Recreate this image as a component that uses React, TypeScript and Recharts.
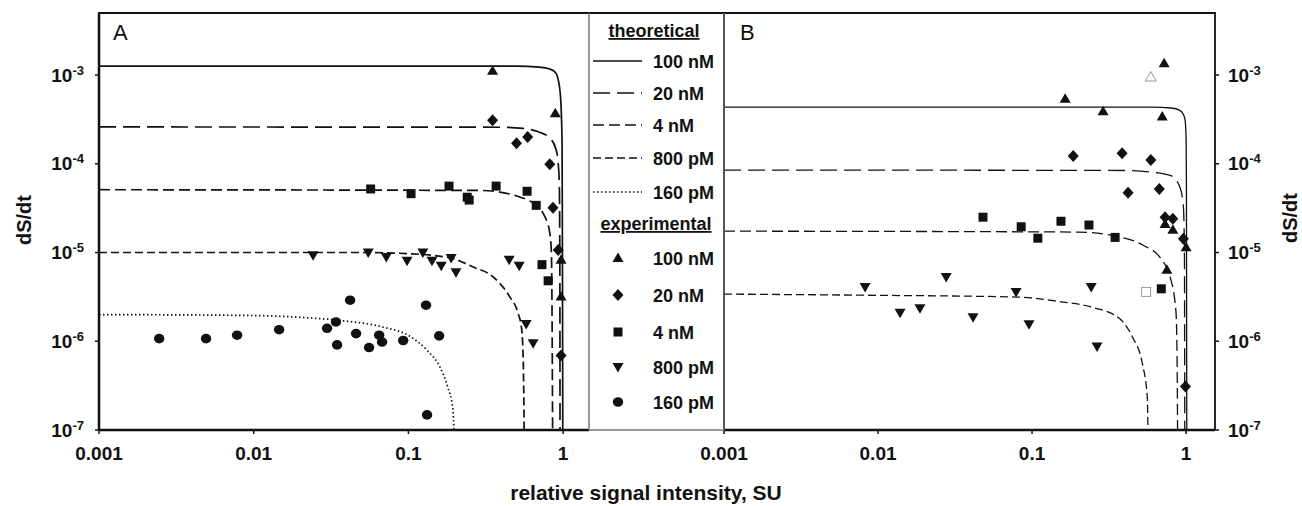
import React from 'react';
import { ComposedChart, Line, Scatter, XAxis, YAxis } from 'recharts';

type Pt = [number, number];

// ---------- labels / ticks ----------
const seriesNames = ['100 nM', '20 nM', '4 nM', '800 pM', '160 pM'];
const xTicks = [0.001, 0.01, 0.1, 1];
const xTickLabels = ['0.001', '0.01', '0.1', '1'];
const yTicks = [1e-7, 1e-6, 1e-5, 1e-4, 1e-3];
const yTickExponents = ['-7', '-6', '-5', '-4', '-3'];
const xTitle = 'relative signal intensity, SU';
const yTitle = 'dS/dt';

// ---------- panel A: theoretical curves ----------
const A_theo100: Pt[] = [[0.001, 1.26e-3], [0.5, 1.26e-3], [0.7, 1.23e-3], [0.82, 1.17e-3], [0.9, 1.05e-3], [0.93, 8.8e-4], [0.96, 6e-4], [0.975, 3.5e-4], [0.985, 1.5e-4], [0.99, 1e-5], [0.995, 1e-7]];
const A_theo20: Pt[] = [[0.001, 2.6e-4], [0.4, 2.58e-4], [0.55, 2.5e-4], [0.69, 2.3e-4], [0.82, 1.95e-4], [0.9, 1.45e-4], [0.93, 1e-4], [0.945, 6e-5], [0.952, 1e-5], [0.955, 1e-7]];
const A_theo4: Pt[] = [[0.001, 5.1e-5], [0.3, 5.0e-5], [0.39, 4.8e-5], [0.53, 4.2e-5], [0.64, 3.6e-5], [0.765, 2.5e-5], [0.82, 1.66e-5], [0.84, 1e-5], [0.85, 1e-6], [0.855, 1e-7]];
const A_theo800: Pt[] = [[0.001, 1e-5], [0.05, 1e-5], [0.1, 9.7e-6], [0.186, 8.7e-6], [0.26, 6.9e-6], [0.353, 5.3e-6], [0.45, 3.2e-6], [0.51, 2.1e-6], [0.54, 1.35e-6], [0.553, 5.6e-7], [0.56, 1e-7]];
const A_theo160: Pt[] = [[0.001, 2.0e-6], [0.01, 1.95e-6], [0.02, 1.86e-6], [0.038, 1.7e-6], [0.069, 1.44e-6], [0.103, 1.13e-6], [0.132, 7.9e-7], [0.16, 5.1e-7], [0.18, 3.0e-7], [0.194, 1.7e-7], [0.197, 1e-7]];

// ---------- panel A: experimental ----------
const A_exp100: Pt[] = [[0.35, 1.12e-3], [0.89, 3.7e-4], [0.97, 8.3e-6], [0.97, 3.2e-6]];
const A_exp20: Pt[] = [[0.35, 3.1e-4], [0.5, 1.7e-4], [0.59, 2.0e-4], [0.82, 9.9e-5], [0.86, 3.2e-5], [0.93, 1.07e-5], [0.97, 6.9e-7]];
const A_exp4: Pt[] = [[0.057, 5.2e-5], [0.104, 4.6e-5], [0.183, 5.6e-5], [0.24, 4.2e-5], [0.247, 3.9e-5], [0.369, 5.6e-5], [0.585, 4.9e-5], [0.67, 3.4e-5], [0.73, 7.3e-6], [0.8, 4.8e-6]];
const A_exp800: Pt[] = [[0.0242, 9.3e-6], [0.055, 1.0e-5], [0.072, 8.9e-6], [0.098, 8.1e-6], [0.124, 1.0e-5], [0.142, 8.1e-6], [0.163, 7.1e-6], [0.189, 8.7e-6], [0.203, 6.0e-6], [0.448, 8.3e-6], [0.52, 7.1e-6], [0.577, 1.56e-6], [0.64, 9.5e-7]];
const A_exp160: Pt[] = [[0.00245, 1.07e-6], [0.00492, 1.07e-6], [0.00781, 1.17e-6], [0.0146, 1.35e-6], [0.0298, 1.4e-6], [0.034, 1.65e-6], [0.0346, 9.1e-7], [0.042, 2.9e-6], [0.0459, 1.22e-6], [0.0557, 8.5e-7], [0.0647, 1.17e-6], [0.0676, 9.8e-7], [0.0925, 1.02e-6], [0.13, 2.55e-6], [0.158, 1.15e-6], [0.132, 1.48e-7]];

// ---------- panel B: theoretical curves ----------
const B_theo100: Pt[] = [[0.001, 4.35e-4], [0.6, 4.35e-4], [0.8, 4.25e-4], [0.91, 4e-4], [0.96, 3.6e-4], [0.985, 3.1e-4], [1.0, 1.9e-4], [1.005, 5e-5], [1.01, 1e-7]];
const B_theo20: Pt[] = [[0.001, 8.5e-5], [0.4, 8.4e-5], [0.58, 8.1e-5], [0.79, 7.4e-5], [0.91, 5.5e-5], [0.96, 3.3e-5], [0.975, 1e-5], [0.98, 1e-7]];
const B_theo4: Pt[] = [[0.001, 1.74e-5], [0.2, 1.7e-5], [0.336, 1.55e-5], [0.53, 1.2e-5], [0.68, 8.7e-6], [0.79, 5.2e-6], [0.86, 2.1e-6], [0.875, 5e-7], [0.88, 1e-7]];
const B_theo800: Pt[] = [[0.001, 3.4e-6], [0.0085, 3.3e-6], [0.079, 3.15e-6], [0.151, 2.8e-6], [0.25, 2.4e-6], [0.37, 1.8e-6], [0.45, 1.1e-6], [0.52, 5.6e-7], [0.56, 2.3e-7], [0.565, 1e-7]];

// ---------- panel B: experimental ----------
const B_exp100: Pt[] = [[0.72, 1.36e-3], [0.164, 5.4e-4], [0.289, 3.9e-4], [0.7, 3.4e-4], [0.73, 2.1e-5], [0.82, 1.8e-5], [1.0, 1.15e-5], [0.75, 6.4e-6]];
const B_exp20: Pt[] = [[0.185, 1.22e-4], [0.384, 1.31e-4], [0.59, 1.1e-4], [0.42, 4.7e-5], [0.67, 5.2e-5], [0.73, 2.5e-5], [0.82, 2.4e-5], [0.96, 1.43e-5], [0.99, 3.1e-7]];
const B_exp4: Pt[] = [[0.048, 2.5e-5], [0.085, 1.95e-5], [0.109, 1.45e-5], [0.154, 2.25e-5], [0.234, 2.04e-5], [0.346, 1.48e-5], [0.69, 3.9e-6]];
const B_exp800: Pt[] = [[0.00824, 4.1e-6], [0.0139, 2.09e-6], [0.0187, 2.36e-6], [0.0277, 5.3e-6], [0.0414, 1.86e-6], [0.0787, 3.6e-6], [0.0955, 1.55e-6], [0.242, 4.1e-6], [0.264, 8.7e-7]];
const B_open100: Pt[] = [[0.59, 9.5e-4]];
const B_open4: Pt[] = [[0.55, 3.6e-6]];

const toXY = (pts: Pt[]) => pts.map(([x, y]) => ({ x, y }));

const FONT = '"Liberation Sans", Arial, sans-serif';
const INK = '#111';
const dashes = ['', '17 7', '11 5', '8 4', '1.5 2.5'];
const markerKinds = ['tri', 'dia', 'sq', 'tdown', 'circ'];

function Marker({ kind, cx, cy, fill = INK, stroke = 'none' }: { kind: string; cx: number; cy: number; fill?: string; stroke?: string }) {
  if (cx == null || cy == null || isNaN(cx) || isNaN(cy)) return null;
  const sw = stroke === 'none' ? 0 : 1;
  switch (kind) {
    case 'tri':
      return <polygon points={`${cx},${cy - 5.5} ${cx + 5.5},${cy + 4} ${cx - 5.5},${cy + 4}`} fill={fill} stroke={stroke} strokeWidth={sw} />;
    case 'dia':
      return <polygon points={`${cx},${cy - 6} ${cx + 5.5},${cy} ${cx},${cy + 6} ${cx - 5.5},${cy}`} fill={fill} stroke={stroke} strokeWidth={sw} />;
    case 'sq':
      return <rect x={cx - 4.5} y={cy - 4.5} width={9} height={9} fill={fill} stroke={stroke} strokeWidth={sw} />;
    case 'tdown':
      return <polygon points={`${cx - 5.5},${cy - 4} ${cx + 5.5},${cy - 4} ${cx},${cy + 5.5}`} fill={fill} stroke={stroke} strokeWidth={sw} />;
    default:
      return <ellipse cx={cx} cy={cy} rx={5.2} ry={4.8} fill={fill} stroke={stroke} strokeWidth={sw} />;
  }
}

const labelFor = (v: number, vals: number[], labels: string[]) => {
  const i = vals.findIndex((t) => Math.abs(Math.log10(t) - Math.log10(v)) < 1e-6);
  return i >= 0 ? labels[i] : '';
};

function XTick(props: any) {
  const { x, y, payload } = props;
  return (
    <text x={x} y={y + 24} textAnchor="middle" fontFamily={FONT} fontWeight="bold" fontSize={19} fill={INK}>
      {labelFor(payload.value, xTicks, xTickLabels)}
    </text>
  );
}

function YTickLeft(props: any) {
  const { x, y, payload } = props;
  return (
    <text x={x - 9} y={y + 6.5} textAnchor="end" fontFamily={FONT} fontWeight="bold" fontSize={19} fill={INK}>
      10<tspan dy={-7} fontSize={13}>{labelFor(payload.value, yTicks, yTickExponents)}</tspan>
    </text>
  );
}

function YTickRight(props: any) {
  const { x, y, payload } = props;
  return (
    <text x={x + 7} y={y + 6.5} textAnchor="start" fontFamily={FONT} fontWeight="bold" fontSize={19} fill={INK}>
      10<tspan dy={-7} fontSize={13}>{labelFor(payload.value, yTicks, yTickExponents)}</tspan>
    </text>
  );
}

const CH = 506;
const MARGIN_BOTTOM = 46;
const X_AXIS_H = 30;
const B_LEFT = 650; // page x of panel B's chart box
const B_PLOT_LEFT = 724; // page x of panel B's plot area

function Panel({ theo, exp, open, xMax, lineWidth, side }: { theo: Pt[][]; exp: Pt[][]; open: { pts: Pt[]; kind: string }[]; xMax: number; lineWidth: number; side: 'A' | 'B' }) {
  const isA = side === 'A';
  const width = isA ? 600 : 1302 - B_LEFT;
  return (
    <ComposedChart
      width={width}
      height={CH}
      margin={isA ? { top: 13, right: 11, bottom: MARGIN_BOTTOM, left: 0 } : { top: 13, right: 0, bottom: MARGIN_BOTTOM, left: B_PLOT_LEFT - B_LEFT }}
    >
      <XAxis
        type="number"
        dataKey="x"
        scale="log"
        domain={[0.001, xMax]}
        allowDataOverflow
        ticks={xTicks}
        interval={0}
        height={X_AXIS_H}
        tickSize={4}
        tickMargin={2}
        axisLine={{ stroke: INK, strokeWidth: 2.5 }}
        tickLine={{ stroke: INK, strokeWidth: 1.5 }}
        tick={(p: any) => <XTick {...p} />}
      />
      <YAxis
        type="number"
        dataKey="y"
        scale="log"
        domain={[1e-7, 5e-3]}
        allowDataOverflow
        ticks={yTicks}
        interval={0}
        orientation={isA ? 'left' : 'right'}
        width={isA ? 99 : 87}
        tickSize={4}
        tickMargin={2}
        axisLine={{ stroke: INK, strokeWidth: isA ? 2.5 : 1.8 }}
        tickLine={{ stroke: INK, strokeWidth: 1.5 }}
        tick={(p: any) => (isA ? <YTickLeft {...p} /> : <YTickRight {...p} />)}
      />
      {theo.map((pts, i) => (
        <Line
          key={'t' + i}
          data={toXY(pts)}
          dataKey="y"
          type="monotone"
          stroke={INK}
          strokeWidth={lineWidth}
          strokeDasharray={dashes[i] || undefined}
          dot={false}
          activeDot={false}
          isAnimationActive={false}
          legendType="none"
        />
      ))}
      {exp.map((pts, i) => (
        <Scatter
          key={'e' + i}
          data={toXY(pts)}
          dataKey="y"
          isAnimationActive={false}
          shape={(p: any) => <Marker kind={markerKinds[i]} cx={p.cx} cy={p.cy} />}
        />
      ))}
      {open.map((o, i) => (
        <Scatter
          key={'o' + i}
          data={toXY(o.pts)}
          dataKey="y"
          isAnimationActive={false}
          shape={(p: any) => <Marker kind={o.kind} cx={p.cx} cy={p.cy} fill="#fff" stroke="#9a9a9a" />}
        />
      ))}
    </ComposedChart>
  );
}

function Overlay() {
  const theoY = [61, 93, 125, 158, 192];
  const expY = [258, 295, 332, 367, 402];
  const txt = { fontFamily: FONT, fontWeight: 'bold' as const, fontSize: 18, fill: INK };
  return (
    <svg width={1302} height={506} style={{ position: 'absolute', left: 0, top: 0, pointerEvents: 'none' }}>
      {/* frame */}
      <line x1={98} y1={13} x2={1216} y2={13} stroke={INK} strokeWidth={2} />
      <line x1={589} y1={13} x2={589} y2={430} stroke="#777" strokeWidth={1.5} />
      <line x1={724} y1={13} x2={724} y2={430} stroke="#555" strokeWidth={2} />
      <line x1={589} y1={430} x2={724} y2={430} stroke="#777" strokeWidth={1.5} />
      {/* panel letters */}
      <text x={113} y={40} fontFamily={FONT} fontSize={22} fill={INK}>A</text>
      <text x={740} y={40} fontFamily={FONT} fontSize={22} fill={INK}>B</text>
      {/* legend */}
      <text x={654} y={37} textAnchor="middle" {...txt} textDecoration="underline">theoretical</text>
      {seriesNames.map((n, i) => (
        <g key={'lt' + i}>
          <line x1={593} y1={theoY[i]} x2={642} y2={theoY[i]} stroke={INK} strokeWidth={1.6} strokeDasharray={dashes[i] || undefined} />
          <text x={653} y={theoY[i] + 6.5} {...txt}>{n}</text>
        </g>
      ))}
      <text x={656} y={230} textAnchor="middle" {...txt} textDecoration="underline">experimental</text>
      {seriesNames.map((n, i) => (
        <g key={'le' + i}>
          <Marker kind={markerKinds[i]} cx={618} cy={expY[i]} />
          <text x={653} y={expY[i] + 6.5} {...txt}>{n}</text>
        </g>
      ))}
      {/* axis titles */}
      <text x={646} y={500} textAnchor="middle" fontFamily={FONT} fontWeight="bold" fontSize={21} fill={INK}>{xTitle}</text>
      <text transform="translate(31,220) rotate(-90)" textAnchor="middle" fontFamily={FONT} fontWeight="bold" fontSize={20} fill={INK}>{yTitle}</text>
      <text transform="translate(1297,218) rotate(-90)" textAnchor="middle" fontFamily={FONT} fontWeight="bold" fontSize={20} fill={INK}>{yTitle}</text>
    </svg>
  );
}

export default function App() {
  return (
    <div style={{ position: 'absolute', left: 0, top: 0, width: 1302, height: 506, background: '#fff', overflow: 'hidden' }}>
      <div style={{ position: 'absolute', left: 0, top: 0 }}>
        <Panel
          side="A"
          theo={[A_theo100, A_theo20, A_theo4, A_theo800, A_theo160]}
          exp={[A_exp100, A_exp20, A_exp4, A_exp800, A_exp160]}
          open={[]}
          xMax={1.47}
          lineWidth={1.7}
        />
      </div>
      <div style={{ position: 'absolute', left: B_LEFT, top: 0 }}>
        <Panel
          side="B"
          theo={[B_theo100, B_theo20, B_theo4, B_theo800]}
          exp={[B_exp100, B_exp20, B_exp4, B_exp800]}
          open={[{ pts: B_open100, kind: 'tri' }, { pts: B_open4, kind: 'sq' }]}
          xMax={1.54}
          lineWidth={1.3}
        />
      </div>
      <Overlay />
    </div>
  );
}
